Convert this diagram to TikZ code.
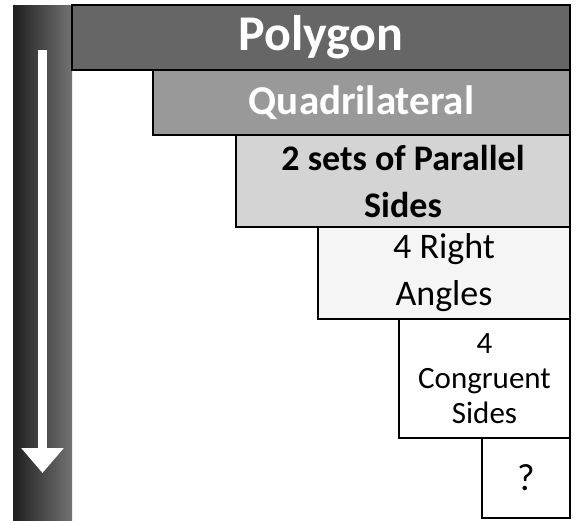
\documentclass[tikz,border=0pt]{standalone}
\usepackage{fontspec}
\setmainfont{Carlito}
\usetikzlibrary{arrows.meta,positioning}

\tikzset{
  tier/.style={draw=black, line width=1.2pt, anchor=north east, inner sep=0pt, outer sep=0pt, align=center},
  bigbold/.style={font=\fontsize{#1}{#1}\selectfont\bfseries},
}

\begin{document}
\begin{tikzpicture}[x=1pt,y=-1pt]
    \useasboundingbox (0,0) rectangle (577,520);

    % dark bar with the white arrow
    \shade[left color=black!88, middle color=black, right color=black!55] (13,5) rectangle (72,520);
    \coordinate (arrtop) at (42.5,50);
    \coordinate (arrtip) at (42.5,473);
    \draw[white, line width=9pt, -{Triangle[width=41pt,length=25pt]}] (arrtop) -- (arrtip);

    % the steps
    \node[tier, fill=black!60, minimum width=498pt, minimum height=65pt, bigbold=50, text=white] (poly) at (570,5) {Polygon};
    \node[tier, fill=black!40, minimum width=417pt, minimum height=65pt, bigbold=41, text=white] (quad) at (poly.south east) {Quadrilateral};
    \node[tier, fill=black!17, minimum width=334pt, minimum height=92pt, font=\fontsize{36}{47}\selectfont\bfseries] (par) at (quad.south east) {2 sets of Parallel\\Sides};
    \node[tier, fill=black!4, minimum width=252pt, minimum height=92pt, font=\fontsize{36}{47}\selectfont] (right) at (par.south east) {4 Right\\Angles};
    \node[tier, fill=white, minimum width=171pt, minimum height=119pt, font=\fontsize{31}{35}\selectfont] (cong) at (right.south east) {4\\Congruent\\Sides};
    \node[tier, fill=white, minimum width=88pt, minimum height=80pt, font=\fontsize{38}{38}\selectfont] (ques) at (cong.south east) {?};

\end{tikzpicture}
\end{document}
